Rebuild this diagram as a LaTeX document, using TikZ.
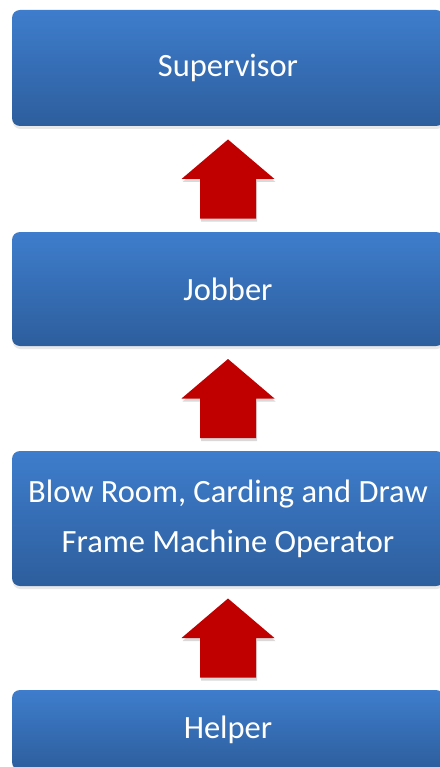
\documentclass[tikz,border=0pt]{standalone}
\usepackage{fontspec}
\setmainfont{Carlito}
\usepackage{xcolor}
\usepackage{tikz}
\usetikzlibrary{calc,shadows}
\definecolor{rankBlueTop}{RGB}{62,125,204}
\definecolor{rankBlueBot}{RGB}{45,94,157}
\definecolor{rankRed}{RGB}{192,0,0}

\tikzset{
  rankbox/.style={rectangle, rounded corners=8pt, minimum width=432pt,
    top color=rankBlueTop, bottom color=rankBlueBot, text=white, align=center,
    font=\fontsize{32.5}{50}\selectfont, inner sep=0pt,
    drop shadow={shadow xshift=0.5pt, shadow yshift=-3pt, opacity=0.18}},
  uparrow/.style={fill=rankRed,
    drop shadow={shadow xshift=1pt, shadow yshift=-3pt, opacity=0.3}}
}

\begin{document}
\begin{tikzpicture}[x=1pt,y=-1pt]
\useasboundingbox (0,0) rectangle (439,767);
\node[rankbox, minimum height=116pt] (sup) at (228,68) {Supervisor};
\node[rankbox, minimum height=114pt] (job) at (228,289) {Jobber};
\node[rankbox, minimum height=135pt] (op) at (228,518.5) {Blow Room, Carding and Draw\\Frame Machine Operator};
\node[rankbox, minimum height=80pt] (help) at (228,730) {Helper};
% promotion arrows, centred in each gap
\foreach \lo/\hi in {job/sup, op/job, help/op}{
  \coordinate (m) at ($(\lo.north)!0.5!(\hi.south)$);
  \path[uparrow] ($(m)+(0,-39.5)$) -- ($(m)+(46.5,0)$) -- ($(m)+(28,0)$)
    -- ($(m)+(28,39.5)$) -- ($(m)+(-28,39.5)$) -- ($(m)+(-28,0)$)
    -- ($(m)+(-46.5,0)$) -- cycle;
}
\end{tikzpicture}
\end{document}
